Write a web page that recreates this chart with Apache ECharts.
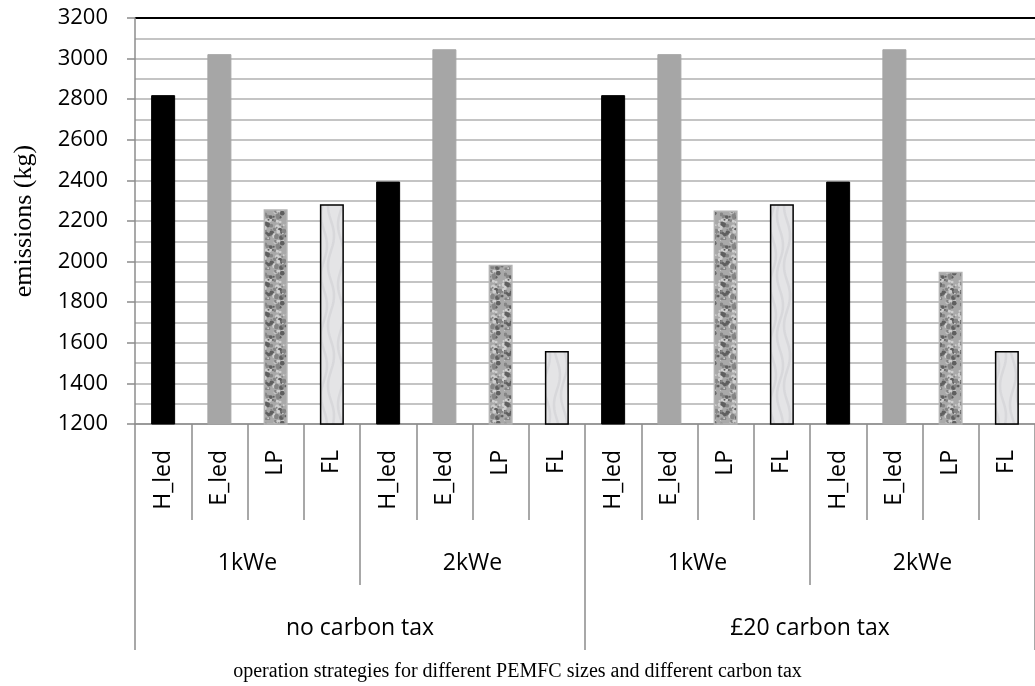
<!DOCTYPE html>
<html>
<head>
<meta charset="utf-8">
<script src="https://cdn.jsdelivr.net/npm/echarts@6/dist/echarts.min.js"></script>
<style>html,body{margin:0;padding:0;background:#fff;}#c{width:1035px;height:686px;}</style>
</head>
<body>
<div id="c"></div>
<script>
const strategies = ['H_led','E_led','LP','FL','H_led','E_led','LP','FL','H_led','E_led','LP','FL','H_led','E_led','LP','FL'];
const sizes = ['1kWe','2kWe','1kWe','2kWe'];
const taxes = ['no carbon tax','£20 carbon tax'];
const emissions = [2820,3022,2258,2283,2394,3046,1984,1560,2820,3022,2252,2283,2394,3046,1950,1560];
const yTicks = [1200,1400,1600,1800,2000,2200,2400,2600,2800,3000,3200];

// mottled texture for LP bars (deterministic pattern)
function mottled() {
  const cv = document.createElement('canvas');
  cv.width = 24; cv.height = 30;
  const g = cv.getContext('2d');
  g.fillStyle = '#a9a9a9'; g.fillRect(0,0,24,30);
  for (let i = 0; i < 70; i++) {
    const x = (Math.sin(i*12.9898)*43758.5453) % 1;
    const y = (Math.sin(i*78.233)*12345.678) % 1;
    const px = Math.abs(x)*24, py = Math.abs(y)*30;
    g.fillStyle = i % 3 === 0 ? '#cfcfcf' : (i % 3 === 1 ? '#5f5f5f' : '#858585');
    g.beginPath(); g.arc(px, py, 1.0 + (i % 4)*0.45, 0, Math.PI*2); g.fill();
  }
  return cv;
}
function marble() {
  const cv = document.createElement('canvas');
  cv.width = 24; cv.height = 60;
  const g = cv.getContext('2d');
  g.fillStyle = '#e4e4e6'; g.fillRect(0,0,24,60);
  g.strokeStyle = 'rgba(175,175,180,0.22)'; g.lineWidth = 2.5;
  for (let k = 0; k < 3; k++) {
    g.beginPath();
    for (let y = 0; y <= 60; y += 2) {
      const x = 5 + k*7 + 3*Math.sin(y/9.5 + k);
      if (y === 0) g.moveTo(x, y); else g.lineTo(x, y);
    }
    g.stroke();
  }
  return cv;
}

const styles = {
  'H_led': {color:'#000000', borderColor:'#000000', borderWidth:1},
  'E_led': {color:'#a6a6a6', borderColor:'#a6a6a6', borderWidth:1},
  'LP':    {color:{image:mottled(), repeat:'repeat'}, borderColor:'#b4b4b4', borderWidth:1.5},
  'FL':    {color:{image:marble(), repeat:'repeat'}, borderColor:'#000000', borderWidth:1.5}
};

const chart = echarts.init(document.getElementById('c'), null, {renderer:'canvas'});
const gridColors = [];
for (let i = 0; i < yTicks.length; i++) gridColors.push(i === yTicks.length - 1 ? '#000000' : '#c4c4c4');

const labelFont = 'Open Sans, Lato, sans-serif';
chart.setOption({
  animation:false,
  backgroundColor:'#ffffff',
  grid:{left:135, top:18, width:903, height:406, containLabel:false},
  xAxis:[
    {type:'category', data:strategies, position:'bottom',
     axisLine:{lineStyle:{color:'#8c8c8c', width:1.5}},
     axisTick:{show:true, interval:0, length:96, lineStyle:{color:'#8c8c8c', width:1.5}},
     axisLabel:{interval:0, rotate:90, margin:26, color:'#000', fontSize:23, fontFamily:labelFont, align:'right', verticalAlign:'middle'}},
    {type:'category', data:sizes, position:'bottom',
     axisLine:{show:false},
     axisTick:{show:true, interval:0, length:161, lineStyle:{color:'#8c8c8c', width:1.5}},
     axisLabel:{interval:0, margin:128, color:'#000', fontSize:23, fontFamily:labelFont}},
    {type:'category', data:taxes, position:'bottom',
     axisLine:{show:false},
     axisTick:{show:true, interval:0, length:226, lineStyle:{color:'#8c8c8c', width:1.5}},
     axisLabel:{interval:0, margin:193, color:'#000', fontSize:23, fontFamily:labelFont}}
  ],
  yAxis:{
    type:'value', min:1200, max:3200, interval:200,
    name:'emissions (kg)', nameLocation:'middle', nameGap:98, nameRotate:90,
    nameTextStyle:{fontFamily:'Liberation Serif, Times New Roman, serif', fontSize:26, color:'#000'},
    axisLine:{show:true, lineStyle:{color:'#8c8c8c', width:1.5}},
    axisTick:{show:true, length:8, lineStyle:{color:'#8c8c8c', width:1.5}},
    axisLabel:{color:'#000', fontSize:22, fontFamily:labelFont, margin:27, formatter:v=>String(v)},
    splitLine:{show:true, lineStyle:{color:gridColors, width:2}},
    minorTick:{show:false, splitNumber:2},
    minorSplitLine:{show:true, lineStyle:{color:'#c4c4c4', width:2}}
  },
  graphic:[{type:'text', left:'center', top:662, style:{text:'operation strategies for different PEMFC sizes and different carbon tax', font:'20px "Liberation Serif", "Times New Roman", serif', fill:'#000'}}],
  series:[{
    type:'bar', xAxisIndex:0, barWidth:24,
    data: emissions.map((v,i)=>({value:v, itemStyle:styles[strategies[i]]}))
  }]
});
</script>
</body>
</html>
